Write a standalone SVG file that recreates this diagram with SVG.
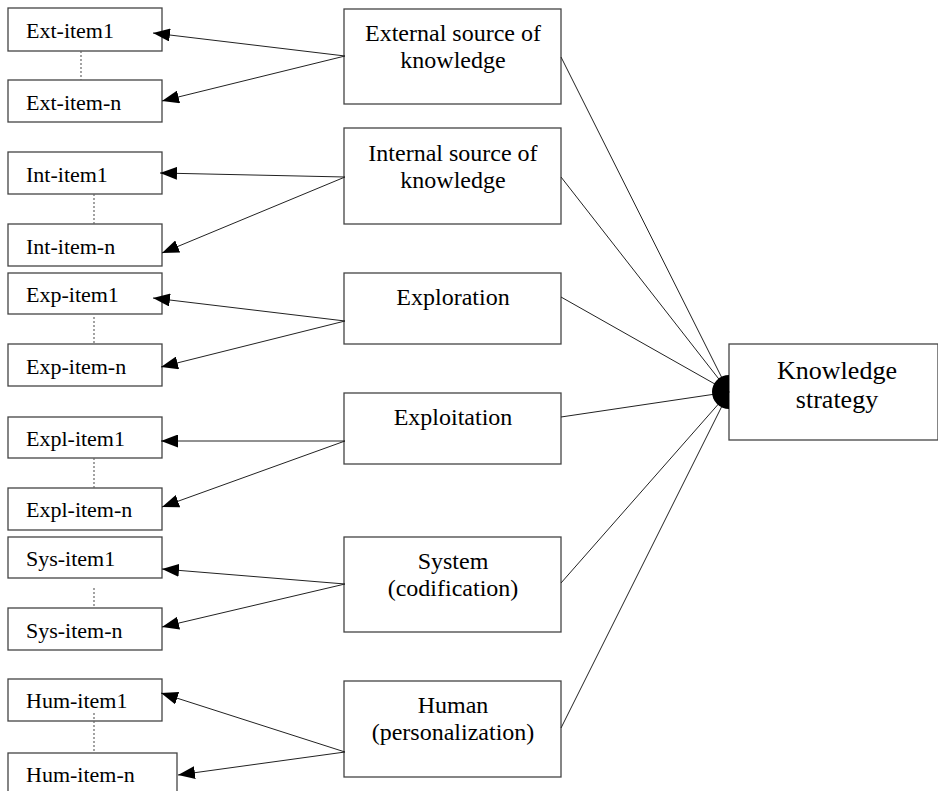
<svg xmlns="http://www.w3.org/2000/svg" width="938" height="791" viewBox="0 0 938 791">
  <style>
    .box { fill: #fff; stroke: #444; stroke-width: 1.3; }
    text { font-family: 'Liberation Serif', 'DejaVu Serif', serif; fill: #000; }
    .item { font-size: 22px; }
    .mid { font-size: 24px; text-anchor: middle; }
    .big { font-size: 26px; text-anchor: middle; }
    .link { stroke: #222; stroke-width: 1; fill: none; }
    .arrow { stroke: #222; stroke-width: 1; fill: none; marker-end: url(#head); }
    .dots { stroke: #666; stroke-width: 1.2; stroke-dasharray: 2 2; fill: none; }
  </style>
  <defs>
    <marker id="head" markerUnits="userSpaceOnUse" viewBox="0 0 17 13" markerWidth="17" markerHeight="13" refX="17" refY="6.5" orient="auto">
      <path d="M0,0 L17,6.5 L0,13 Z" fill="#000"/>
    </marker>
  </defs>

  <!-- item boxes on the left -->
  <g id="ext-item1"><rect class="box" x="8" y="8" width="154" height="43"/><text class="item" x="26" y="38">Ext-item1</text></g>
  <g id="ext-item-n"><rect class="box" x="8" y="80" width="154" height="42"/><text class="item" x="26" y="110">Ext-item-n</text></g>
  <g id="int-item1"><rect class="box" x="8" y="152" width="154" height="42"/><text class="item" x="26" y="182">Int-item1</text></g>
  <g id="int-item-n"><rect class="box" x="8" y="224" width="154" height="42"/><text class="item" x="26" y="254">Int-item-n</text></g>
  <g id="exp-item1"><rect class="box" x="8" y="273" width="154" height="41"/><text class="item" x="26" y="302">Exp-item1</text></g>
  <g id="exp-item-n"><rect class="box" x="8" y="344" width="154" height="42"/><text class="item" x="26" y="374">Exp-item-n</text></g>
  <g id="expl-item1"><rect class="box" x="8" y="417" width="154" height="41"/><text class="item" x="26" y="446">Expl-item1</text></g>
  <g id="expl-item-n"><rect class="box" x="8" y="488" width="154" height="42"/><text class="item" x="26" y="517">Expl-item-n</text></g>
  <g id="sys-item1"><rect class="box" x="8" y="537" width="154" height="41"/><text class="item" x="26" y="566">Sys-item1</text></g>
  <g id="sys-item-n"><rect class="box" x="8" y="608" width="154" height="42"/><text class="item" x="26" y="638">Sys-item-n</text></g>
  <g id="hum-item1"><rect class="box" x="8" y="679" width="154" height="42"/><text class="item" x="26" y="708">Hum-item1</text></g>
  <g id="hum-item-n"><rect class="box" x="8" y="753" width="169" height="44"/><text class="item" x="26" y="782">Hum-item-n</text></g>

  <!-- dimension boxes in the middle -->
  <g id="external"><rect class="box" x="344" y="9" width="217" height="95"/><text class="mid" x="453" y="41">External source of</text><text class="mid" x="453" y="68">knowledge</text></g>
  <g id="internal"><rect class="box" x="344" y="128" width="217" height="96"/><text class="mid" x="453" y="161">Internal source of</text><text class="mid" x="453" y="188">knowledge</text></g>
  <g id="exploration"><rect class="box" x="344" y="273" width="217" height="71"/><text class="mid" x="453" y="305">Exploration</text></g>
  <g id="exploitation"><rect class="box" x="344" y="393" width="217" height="71"/><text class="mid" x="453" y="425">Exploitation</text></g>
  <g id="system"><rect class="box" x="344" y="537" width="217" height="95"/><text class="mid" x="453" y="569">System</text><text class="mid" x="453" y="596">(codification)</text></g>
  <g id="human"><rect class="box" x="344" y="681" width="217" height="96"/><text class="mid" x="453" y="713">Human</text><text class="mid" x="453" y="740">(personalization)</text></g>

  <!-- target -->
  <g id="knowledge-strategy"><rect class="box" x="729" y="344" width="209" height="96"/><text class="big" x="837" y="379">Knowledge</text><text class="big" x="837" y="408">strategy</text></g>

  <g id="connectors">
    <!-- dotted ranges between first and last item -->
    <line class="dots" x1="81" y1="51" x2="81" y2="80"/>
    <line class="dots" x1="94" y1="194" x2="94" y2="224"/>
    <line class="dots" x1="94" y1="317" x2="94" y2="344"/>
    <line class="dots" x1="94" y1="458" x2="94" y2="488"/>
    <line class="dots" x1="94" y1="588" x2="94" y2="608"/>
    <line class="dots" x1="94" y1="713" x2="94" y2="753"/>

    <!-- dimension to items -->
    <line class="arrow" x1="345" y1="56" x2="153" y2="33"/>
    <line class="arrow" x1="345" y1="56" x2="162" y2="101"/>
    <line class="arrow" x1="345" y1="177" x2="160" y2="173"/>
    <line class="arrow" x1="345" y1="177" x2="162" y2="253"/>
    <line class="arrow" x1="345" y1="321" x2="153" y2="298"/>
    <line class="arrow" x1="345" y1="321" x2="161" y2="367"/>
    <line class="arrow" x1="345" y1="441" x2="161" y2="441"/>
    <line class="arrow" x1="345" y1="441" x2="162" y2="507"/>
    <line class="arrow" x1="345" y1="584" x2="162" y2="569"/>
    <line class="arrow" x1="345" y1="584" x2="162" y2="627"/>
    <line class="arrow" x1="345" y1="752" x2="161" y2="693"/>
    <line class="arrow" x1="345" y1="752" x2="178" y2="775"/>

    <!-- dimensions into knowledge strategy -->
    <line class="link" x1="561" y1="57" x2="729" y2="392"/>
    <line class="link" x1="561" y1="177" x2="729" y2="392"/>
    <line class="link" x1="561" y1="297" x2="729" y2="392"/>
    <line class="link" x1="561" y1="417" x2="729" y2="392"/>
    <line class="link" x1="561" y1="583" x2="729" y2="392"/>
    <line class="link" x1="561" y1="728" x2="729" y2="392"/>
    <!-- merged arrowheads at the target -->
    <path d="M729,375 A17,17 0 0 0 729,409 Z" fill="#000"/>
  </g>
</svg>
